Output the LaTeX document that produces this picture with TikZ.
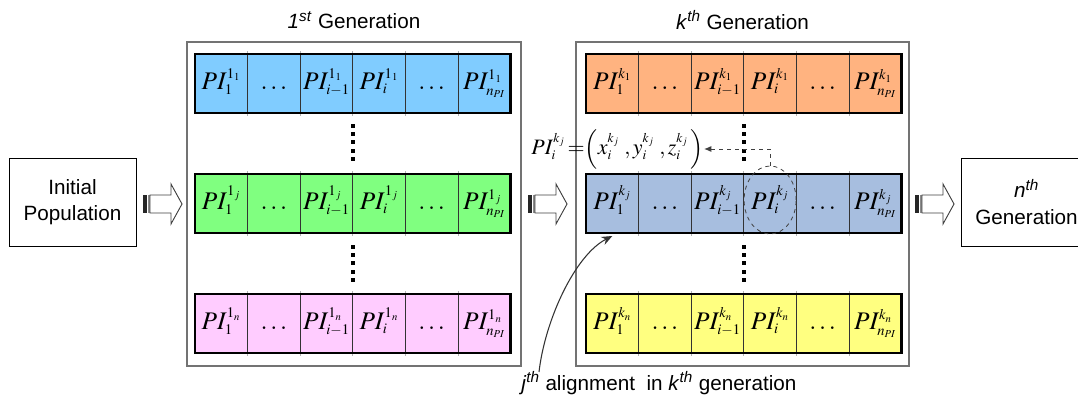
\documentclass[tikz,border=0pt]{standalone}
\usepackage{mathptmx}
\usepackage[no-math]{fontspec}
\setmainfont{Liberation Sans}
\usetikzlibrary{shapes.geometric,arrows.meta,calc}
\DeclareMathSizes{19}{19}{11}{8}
\DeclareMathSizes{16.5}{16.5}{10}{7.5}
\definecolor{cblue}{HTML}{80CCFF}
\definecolor{cgreen}{HTML}{80FF80}
\definecolor{cpink}{HTML}{FFCCFF}
\definecolor{corange}{HTML}{FFB380}
\definecolor{csteel}{HTML}{A7BEDF}
\definecolor{cyellow}{HTML}{FFFF80}
\def\cw{52.6}
\def\rh{59}
\tikzset{
  rowbox/.style={minimum width=6*\cw*0.75pt, minimum height=\rh*0.75pt, inner sep=0pt, outer sep=0pt},
  rowborder/.style={draw=black, line width=2.1pt},
  divext/.style={draw=black!30, line width=0.7pt},
  divin/.style={draw=black!80, line width=0.7pt},
  cell/.style={inner sep=0pt, anchor=base, font=\fontsize{19}{22}\selectfont},
  genbox/.style={draw=black!55, line width=1.1pt, fill=white, inner sep=0pt},
  plainbox/.style={draw=black, line width=0.75pt, fill=white, inner sep=0pt, align=center, font=\fontsize{15.5}{20}\selectfont},
  titletext/.style={font=\fontsize{15.5}{18}\selectfont, inner sep=0pt},
  formula/.style={font=\fontsize{16.5}{19}\selectfont, inner sep=0pt},
  ellmark/.style={ellipse, draw=black!75, dashed, line width=0.6pt, inner sep=0pt, minimum width=52*0.75pt, minimum height=68*0.75pt},
  dashconn/.style={draw=black!75, dashed, line width=0.7pt, -{Latex[length=5.5pt,width=4.5pt]}},
  curvearrow/.style={draw=black!80, line width=0.8pt, -{Stealth[length=8pt,width=6.5pt]}},
  stripearrow/.pic={
    \fill[black!85] (0,-9) rectangle (3.5,9);
    \fill[black!45] (4.5,-9) rectangle (6.5,9);
    \draw[black!75, line width=0.7pt, fill=white] (7,-9) -- (28,-9) -- (28,-20) -- (39,0) -- (28,20) -- (28,9) -- (7,9) -- cycle;
  }
}
\newcommand{\genrow}[5]{%
  \node[rowbox,fill=#4,anchor=north west] (#1) at (#2,#3) {};
  \foreach \ii in {1,...,5}{
    \draw[divext] ($(#1.north west)+(\ii*\cw,-3)$) -- ($(#1.south west)+(\ii*\cw,3)$);
    \draw[divin] ($(#1.north west)+(\ii*\cw,0)$) -- ($(#1.south west)+(\ii*\cw,0)$);
  }
  \draw[rowborder] (#1.north west) rectangle (#1.south east);
  \node[cell] (#1c1) at ($(#1.west)+(0.5*\cw,5.5)$) {$PI_1^{#5}$};
  \node[cell] (#1c2) at ($(#1.west)+(1.5*\cw,5.5)$) {$\dots$};
  \node[cell] (#1c3) at ($(#1.west)+(2.5*\cw,5.5)$) {$PI_{i-1}^{#5}$};
  \node[cell] (#1c4) at ($(#1.west)+(3.5*\cw,5.5)$) {$PI_i^{#5}$};
  \node[cell] (#1c5) at ($(#1.west)+(4.5*\cw,5.5)$) {$\dots$};
  \node[cell] (#1c6) at ($(#1.west)+(5.5*\cw,5.5)$) {$PI_{n_{PI}}^{#5}$};
}
\newcommand{\dotcol}[2]{%
  \foreach \dd in {0,...,4}
    \fill[black] ($(#1.south west)+(3*\cw-2,#2+\dd*8.2)$) rectangle ++(4,4);
}
\begin{document}
\begin{tikzpicture}[x=0.75pt,y=-0.75pt]
\useasboundingbox (0,0) rectangle (1078,396);
\clip (0,0) rectangle (1078,396);

% side boxes
\node[plainbox, minimum width=127*0.75pt, minimum height=88*0.75pt] (init) at (72.5,202) {Initial\\Population};
\node[plainbox, minimum width=131*0.75pt, minimum height=88*0.75pt] (nth) at (1026.5,202) {\textit{n}\textsuperscript{\textit{th}}\\Generation};

% generation boxes
\node[genbox, minimum width=334*0.75pt, minimum height=324*0.75pt] (g1) at (354,204) {};
\node[genbox, minimum width=333*0.75pt, minimum height=324*0.75pt] (g2) at (742.5,204) {};
\node[titletext] (t1) at ($(g1.north)+(0,-21)$) {\textit{1}\textsuperscript{\textit{st}} Generation};
\node[titletext] (t2) at ($(g2.north)+(0,-21)$) {\textit{k}\textsuperscript{\textit{th}} Generation};

% block arrows
\pic at (143,204) {stripearrow};
\pic at (528,204) {stripearrow};
\pic at (915,204) {stripearrow};

% rows of first generation
\genrow{ra}{195}{54}{cblue}{1_1}
\genrow{rb}{195}{174}{cgreen}{1_j}
\genrow{rc}{195}{294}{cpink}{1_n}
% rows of k-th generation
\genrow{ka}{586}{54}{corange}{k_1}
\genrow{kb}{586}{174}{csteel}{k_j}
\genrow{kc}{586}{294}{cyellow}{k_n}

% vertical dots
\dotcol{ra}{11}
\dotcol{rb}{12}
\dotcol{ka}{11}
\dotcol{kb}{12}

% highlighted gene
\node[ellmark] (ell) at ($(kb.center)+(0.5*\cw,-3.5)$) {};
\node[formula, anchor=east] (form) at (704,149) {$PI_i^{k_j}\,{=}\!\left(x_i^{k_j}\;,y_i^{k_j}\;,z_i^{k_j}\,\right)$};
\draw[dashconn] (ell.north) |- (form.east);

% label and curved arrow
\node[titletext, anchor=west] (lbl) at (521,383) {\textit{j}\textsuperscript{\textit{th}} alignment\ \ in \textit{k}\textsuperscript{\textit{th}} generation};
\coordinate (cs) at (539,372);
\draw[curvearrow] (cs) .. controls (545,320) and (575,255) .. ($(kbc1 |- kb.south)+(0,3)$);
\end{tikzpicture}
\end{document}
